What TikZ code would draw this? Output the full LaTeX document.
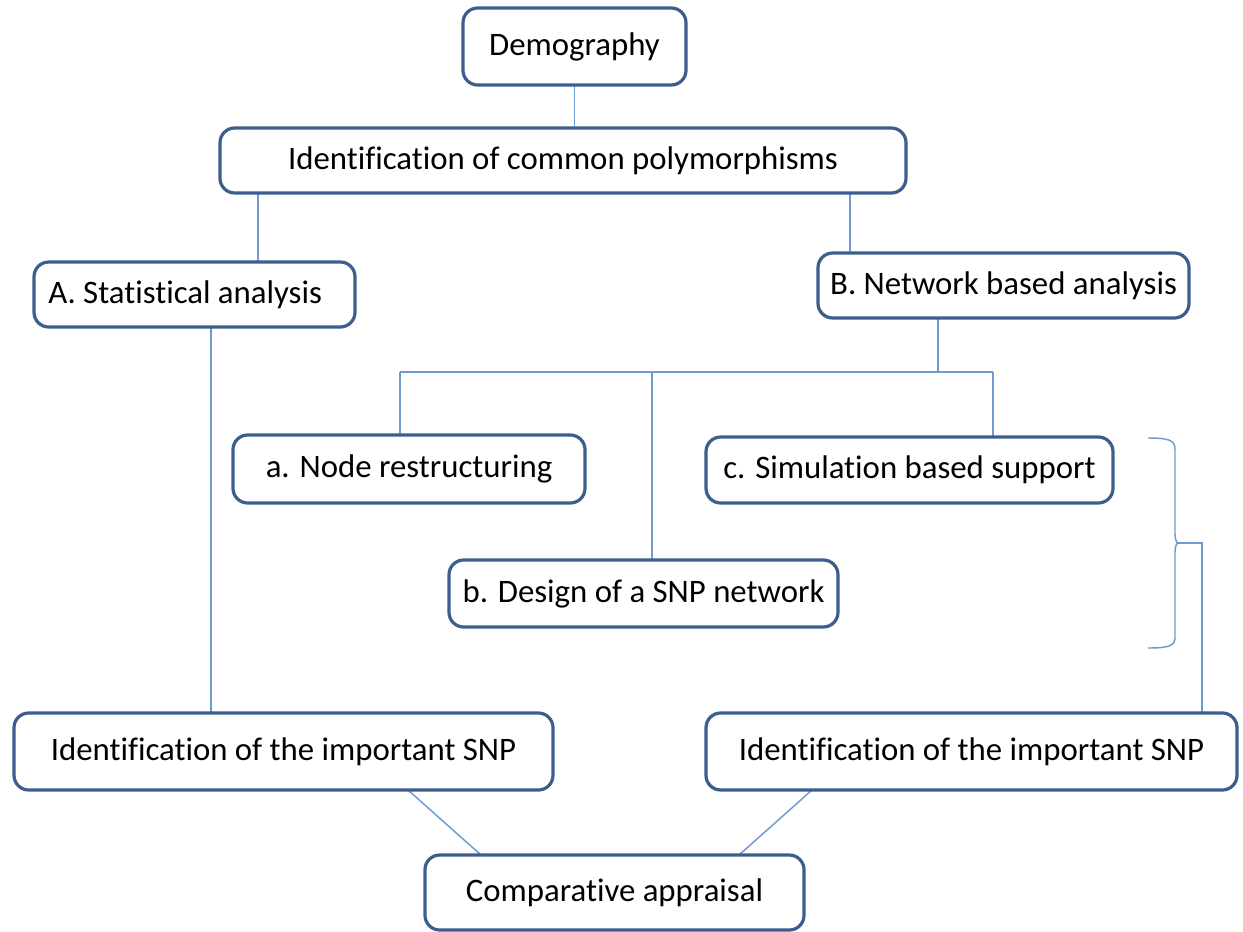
\documentclass[tikz,border=0pt]{standalone}
\usepackage{fontspec}
\setmainfont[Ligatures=CommonOff]{Carlito}
\definecolor{boxblue}{HTML}{3B5E8C}
\definecolor{lineblue}{HTML}{6F9AD0}
\begin{document}
\begin{tikzpicture}[x=0.75pt,y=-0.75pt,
  bx/.style 2 args={draw=boxblue, line width=2.4pt, rounded corners=11pt, fill=white,
    minimum width=#1*0.75pt, minimum height=#2*0.75pt, inner sep=0pt,
    font=\fontsize{24.6}{28}\selectfont, text=black},
  conn/.style={draw=lineblue, line width=1.1pt}]
\useasboundingbox (0,0) rectangle (1243,932);
% coordinates for connector columns
\coordinate (xA) at (258,0);
\coordinate (xB) at (850,0);
\coordinate (xAd) at (211,0);
\coordinate (xBd) at (938,0);
\coordinate (xa) at (400,0);
\coordinate (xb) at (652,0);
\coordinate (xc) at (993,0);
\coordinate (bus) at (0,372);
\coordinate (brtip) at (1178,543);
\coordinate (brjoin) at (1202,543);
\coordinate (xL1) at (408,0);
\coordinate (xL2) at (481,0);
\coordinate (xR1) at (812,0);
\coordinate (xR2) at (739,0);
% connectors
\draw[conn] (574.5,85) -- (574.5,128);
\draw[conn] (xA |- 0,193) -- (xA |- 0,262);
\draw[conn] (xB |- 0,193) -- (xB |- 0,253);
\draw[conn] (xAd |- 0,327) -- (xAd |- 0,713);
\draw[conn] (xBd |- 0,318) -- (xBd |- bus);
\draw[conn] (xa |- bus) -- (xc |- bus);
\draw[conn] (xa |- bus) -- (xa |- 0,435);
\draw[conn] (xb |- bus) -- (xb |- 0,560);
\draw[conn] (xc |- bus) -- (xc |- 0,437);
% brace
\draw[conn] (1148,438) .. controls (1168,438) and (1175,440) .. (1175,449) -- (1175,534)
  .. controls (1175,540) and (1177,543) .. (brtip)
  .. controls (1177,543) and (1175,546) .. (1175,552) -- (1175,638)
  .. controls (1175,646) and (1168,648) .. (1148,648);
\draw[conn] (brtip) -- (brjoin) -- (brjoin |- 0,713);
\draw[conn] (xL1 |- 0,790) -- (xL2 |- 0,855);
\draw[conn] (xR1 |- 0,790) -- (xR2 |- 0,855);
% nodes
\node[bx={223}{77}] (demo) at (574.5,46.5) {Demography};
\node[bx={686}{65}] (icp) at (563,160.5) {Identification of common polymorphisms};
\node[bx={321}{65}] (A) at (194.5,294.5) {\hspace*{-14pt}A. Statistical analysis};
\node[bx={371}{65}] (B) at (1003.5,285.5) {B. Network based analysis};
\node[bx={352}{68}] (a) at (409,469) {a. Node restructuring};
\node[bx={407}{66}] (c) at (909.5,470) {c. Simulation based support};
\node[bx={389}{67}] (b) at (643.5,593.5) {b. Design of a SNP network};
\node[bx={539}{77}] (snpL) at (283.5,751.5) {Identification of the important SNP};
\node[bx={531}{77}] (snpR) at (971.5,751.5) {Identification of the important SNP};
\node[bx={379}{75}] (comp) at (614.5,892.5) {Comparative appraisal};
\end{tikzpicture}
\end{document}
